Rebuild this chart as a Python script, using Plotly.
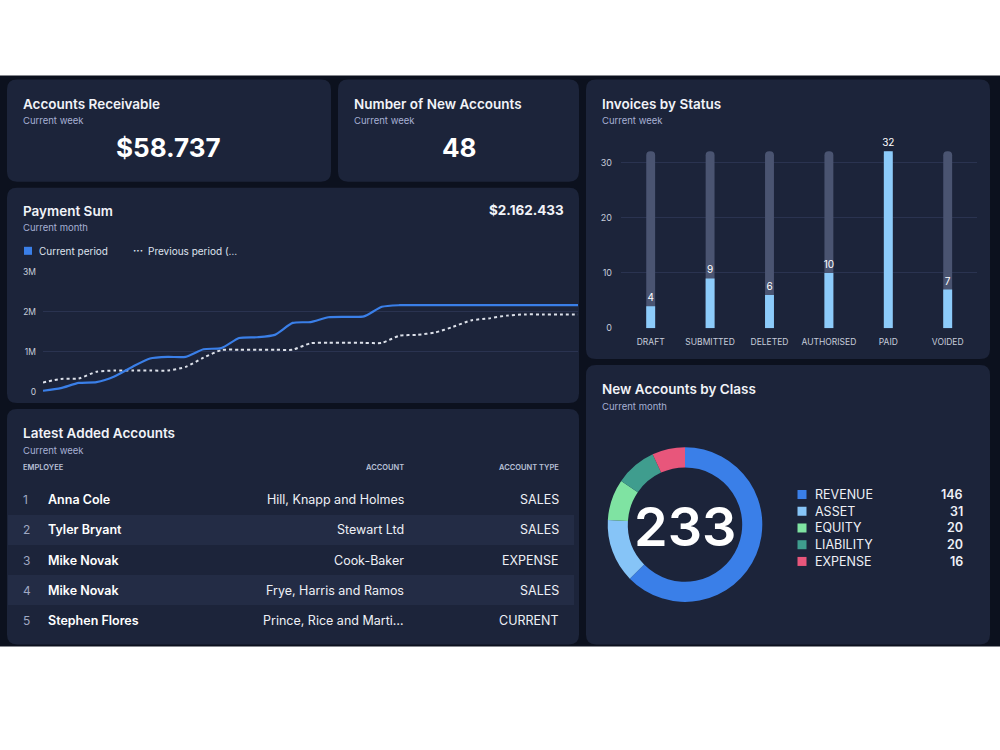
import plotly.graph_objects as go

W, H = 1000, 750
def fx(x): return x / W
def fy(y):
    # small vertical calibration so rendered positions land on the reference pixels
    return 1 - ((y - 5.6) / 0.985) / H

# ---------------- DATA ----------------
kpi_titles = ["Accounts Receivable", "Number of New Accounts"]
kpi_values = ["$58.737", "48"]

days = list(range(1, 32))
current_period = [0.02, 0.09, 0.22, 0.24, 0.38, 0.62, 0.83, 0.87, 0.87, 1.06,
                  1.09, 1.34, 1.36, 1.42, 1.72, 1.74, 1.86, 1.87, 1.88, 2.12,
                  2.16, 2.16, 2.16, 2.16, 2.16, 2.16, 2.16, 2.16, 2.16, 2.16, 2.16]
previous_period = [0.23, 0.32, 0.33, 0.50, 0.53, 0.53, 0.53, 0.53, 0.62, 0.85,
                   1.04, 1.05, 1.05, 1.05, 1.05, 1.21, 1.22, 1.22, 1.22, 1.22,
                   1.40, 1.42, 1.48, 1.62, 1.78, 1.83, 1.90, 1.93, 1.93, 1.93, 1.93]
payment_ticks = [0, 1, 2, 3]
payment_ticktext = ["0", "1M", "2M", "3M"]
payment_total = "$2.162.433"

statuses = ["DRAFT", "SUBMITTED", "DELETED", "AUTHORISED", "PAID", "VOIDED"]
status_counts = [4, 9, 6, 10, 32, 7]

classes = ["REVENUE", "ASSET", "EQUITY", "LIABILITY", "EXPENSE"]
class_counts = [146, 31, 20, 20, 16]
class_colors = ["#3a7fe8", "#86c4f7", "#7fe3a2", "#3f9d8e", "#e8567b"]

row_nums = ["1", "2", "3", "4", "5"]
employees = ["Anna Cole", "Tyler Bryant", "Mike Novak", "Mike Novak", "Stephen Flores"]
accounts = ["Hill, Knapp and Holmes", "Stewart Ltd", "Cook-Baker",
            "Frye, Harris and Ramos", "Prince, Rice and Marti\u2026"]
account_types = ["SALES", "SALES", "EXPENSE", "SALES", "CURRENT"]

# ---------------- STYLE ----------------
FONT = "Inter"
PAGE_BG = "#0c111e"
CARD = "#1c243a"
BAND = "#232c45"
TITLE_C = "#f1f3f8"
SUB_C = "#a6b0d4"
TICK_C = "#c6ccdb"
GRID_C = "#2a3350"

shapes = []
annotations = []

def rrect(x0, y0, x1, y1, r, color):
    X0, X1 = fx(x0), fx(x1)
    Y0, Y1 = fy(y0), fy(y1)
    rx, ry = r / W, r / H
    p = (f"M {X0+rx},{Y0} L {X1-rx},{Y0} Q {X1},{Y0} {X1},{Y0-ry} "
         f"L {X1},{Y1+ry} Q {X1},{Y1} {X1-rx},{Y1} "
         f"L {X0+rx},{Y1} Q {X0},{Y1} {X0},{Y1+ry} "
         f"L {X0},{Y0-ry} Q {X0},{Y0} {X0+rx},{Y0} Z")
    shapes.append(dict(type="path", path=p, xref="paper", yref="paper",
                       fillcolor=color, line=dict(width=0), layer="below"))

def rect(x0, y0, x1, y1, color):
    shapes.append(dict(type="rect", xref="paper", yref="paper",
                       x0=fx(x0), x1=fx(x1), y0=fy(y1), y1=fy(y0),
                       fillcolor=color, line=dict(width=0), layer="below"))

def text(x, y, s, size, color, anchor="left", weight=400, family=FONT):
    annotations.append(dict(x=fx(x), y=fy(y), xref="paper", yref="paper",
                            text=s, showarrow=False, xanchor=anchor, yanchor="middle",
                            font=dict(family=family, size=size, color=color, weight=weight),
                            borderpad=0))

# dashboard background
rect(0, 76, 1000, 646, PAGE_BG)

# cards
rrect(7, 80, 331, 182, 10, CARD)
rrect(338, 80, 579, 182, 10, CARD)
rrect(586, 80, 990, 359, 10, CARD)
rrect(7, 188, 579, 403, 10, CARD)
rrect(7, 409, 579, 644, 10, CARD)
rrect(586, 365, 990, 644, 10, CARD)

# KPI cards
text(22, 104, kpi_titles[0], 13.5, TITLE_C, weight=600)
text(22, 121, "Current week", 9.5, SUB_C)
text(168, 148, kpi_values[0], 26, "#ffffff", anchor="center", weight=700)
text(353, 104, kpi_titles[1], 13.5, TITLE_C, weight=600)
text(353, 121, "Current week", 9.5, SUB_C)
text(459, 148, kpi_values[1], 26, "#ffffff", anchor="center", weight=700)

# Payment Sum card
text(22, 211, "Payment Sum", 13.5, TITLE_C, weight=600)
text(22, 228, "Current month", 9.5, SUB_C)
text(565, 210, payment_total, 13.5, TITLE_C, anchor="right", weight=700)
rect(24, 247, 32, 255, "#3a7fe8")
text(38, 251, "Current period", 10, "#dfe3ee")
text(132, 250, "\u00b7\u00b7\u00b7", 10, "#dfe3ee", weight=700)
text(147, 251, "Previous period (\u2026", 10, "#dfe3ee")

# Invoices card
text(601, 104, "Invoices by Status", 13.5, TITLE_C, weight=600)
text(601, 121, "Current week", 9.5, SUB_C)

# New accounts card
text(601, 389, "New Accounts by Class", 13.5, TITLE_C, weight=600)
text(601, 406, "Current month", 9.5, SUB_C)
text(685, 526, str(sum(class_counts)), 54, "#ffffff", anchor="center", weight=600)
for i, (c, n, col) in enumerate(zip(classes, class_counts, class_colors)):
    yy = 494.3 + i * 16.7
    rect(797.5, yy - 4.5, 806.5, yy + 4.5, col)
    text(814, yy, c, 12.5, "#eef0f6")
    text(964, yy, str(n), 12.5, "#eef0f6", anchor="right", weight=600)

# Latest Added Accounts card
text(22, 433, "Latest Added Accounts", 13.5, TITLE_C, weight=600)
text(22, 450, "Current week", 9.5, SUB_C)
text(22, 467, "EMPLOYEE", 7.5, "#b9c1d8", weight=600)
text(405, 467, "ACCOUNT", 7.5, "#b9c1d8", anchor="right", weight=600)
text(560, 467, "ACCOUNT TYPE", 7.5, "#b9c1d8", anchor="right", weight=600)
for i in range(len(employees)):
    yy = 499.7 + i * 30
    if i % 2 == 1:
        rect(8, yy - 15, 574, yy + 15, BAND)
    text(22, yy, row_nums[i], 12, "#9fa8c2")
    text(47, yy, employees[i], 12.5, "#ffffff", weight=600)
    text(405, yy, accounts[i], 12.5, "#eef0f6", anchor="right")
    text(560, yy, account_types[i], 12.5, "#eef0f6", anchor="right")

# ---------------- TRACES ----------------
fig = go.Figure()

fig.add_trace(go.Scatter(x=days, y=previous_period, mode="lines",
                         line=dict(color="#dde1ea", width=2, dash="dot", shape="spline", smoothing=0.6),
                         xaxis="x", yaxis="y", hoverinfo="skip", showlegend=False))
fig.add_trace(go.Scatter(x=days, y=current_period, mode="lines",
                         line=dict(color="#3a7fe8", width=2.2, shape="spline", smoothing=0.6),
                         xaxis="x", yaxis="y", hoverinfo="skip", showlegend=False))

fig.add_trace(go.Bar(x=statuses, y=[max(status_counts)] * len(statuses), width=0.15,
                     marker=dict(color="#4a5471", cornerradius=5, line=dict(width=0)),
                     xaxis="x2", yaxis="y2", hoverinfo="skip", showlegend=False))
fig.add_trace(go.Bar(x=statuses, y=status_counts, width=0.15,
                     marker=dict(color="#8ccbfa", line=dict(width=0)),
                     text=[str(v) for v in status_counts], textposition="outside",
                     constraintext="none",
                     textfont=dict(family=FONT, size=10, color="#ffffff"),
                     cliponaxis=False,
                     xaxis="x2", yaxis="y2", hoverinfo="skip", showlegend=False))

cx, cy, R = 685, 524.3, 77.3
fig.add_trace(go.Pie(labels=classes, values=class_counts, hole=0.74, sort=False,
                     direction="clockwise", rotation=0,
                     marker=dict(colors=class_colors, line=dict(width=0)),
                     textinfo="none", hoverinfo="skip", showlegend=False,
                     domain=dict(x=[fx(cx - R), fx(cx + R)], y=[fy(cy + R), fy(cy - R)])))

fig.update_layout(
    width=W, height=H, margin=dict(l=0, r=0, t=0, b=0),
    paper_bgcolor="#ffffff", plot_bgcolor="rgba(0,0,0,0)",
    font=dict(family=FONT, color=TICK_C),
    barmode="overlay", showlegend=False,
    shapes=shapes, annotations=annotations,
    xaxis=dict(domain=[fx(43), fx(578)], range=[1, 31], showgrid=False, zeroline=False,
               showticklabels=False, showline=False, fixedrange=True),
    yaxis=dict(domain=[fy(391.7), fy(271.7)], range=[0, 3], tickvals=payment_ticks,
               ticktext=payment_ticktext, showgrid=True, gridcolor=GRID_C, gridwidth=1,
               zeroline=False, showline=False, ticks="", ticklabelstandoff=6,
               tickfont=dict(family=FONT, size=8.5, color=TICK_C), fixedrange=True),
    xaxis2=dict(domain=[fx(621), fx(977.4)], anchor="y2", type="category",
                showgrid=False, zeroline=False, showline=False, ticks="",
                ticklabelstandoff=7,
                tickfont=dict(family=FONT, size=8.5, color=TICK_C), fixedrange=True),
    yaxis2=dict(domain=[fy(328.3), fy(328.3 - 33 * 5.52)], anchor="x2", range=[0, 33],
                tickvals=[0, 10, 20, 30], showgrid=True, gridcolor=GRID_C, gridwidth=1,
                zeroline=False, showline=False, ticks="", ticklabelstandoff=8,
                tickfont=dict(family=FONT, size=9, color=TICK_C), fixedrange=True),
)

fig.write_html("out.html", config=dict(displayModeBar=False))
